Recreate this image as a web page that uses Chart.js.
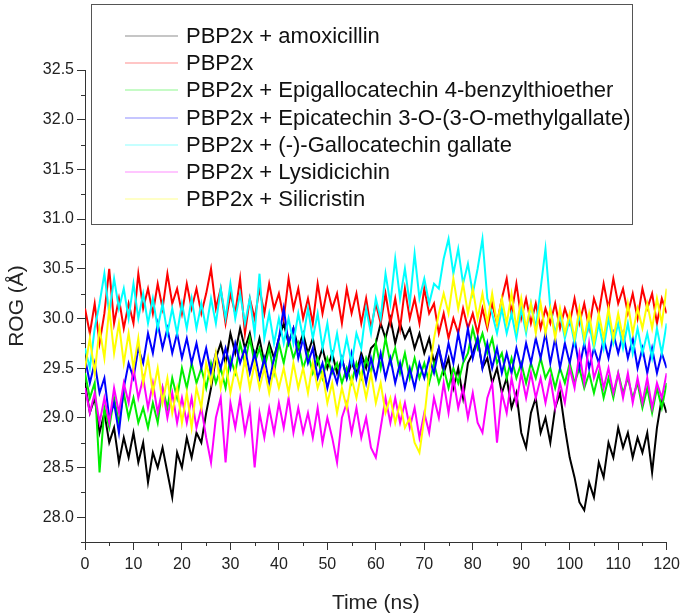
<!DOCTYPE html>
<html>
<head>
<meta charset="utf-8">
<title>ROG</title>
<script src="https://cdn.jsdelivr.net/npm/chart.js"></script>
<style>
  html, body { margin: 0; padding: 0; background: #fff; }
  #wrap { position: relative; width: 685px; height: 616px; }
</style>
</head>
<body>
<div id="wrap"><canvas id="myChart" width="685" height="616"></canvas></div>
<script>
'use strict';
// time in ns
const times = [0,1,2,3,4,5,6,7,8,9,10,11,12,13,14,15,16,17,18,19,20,21,22,23,24,25,26,27,28,29,30,
  31,32,33,34,35,36,37,38,39,40,41,42,43,44,45,46,47,48,49,50,51,52,53,54,55,56,57,58,59,60,
  61,62,63,64,65,66,67,68,69,70,71,72,73,74,75,76,77,78,79,80,81,82,83,84,85,86,87,88,89,90,
  91,92,93,94,95,96,97,98,99,100,101,102,103,104,105,106,107,108,109,110,111,112,113,114,115,116,117,118,119,120];

const names = [
  'PBP2x + amoxicillin',
  'PBP2x',
  'PBP2x + Epigallocatechin 4-benzylthioether',
  'PBP2x + Epicatechin 3-O-(3-O-methylgallate)',
  'PBP2x + (-)-Gallocatechin gallate',
  'PBP2x + Lysidicichin',
  'PBP2x + Silicristin',
];
const colors = ['#000000', '#ff0000', '#00ee00', '#0000ff', '#00ffff', '#ff00ff', '#ffff00'];

const amoxicillin = [29.35,29.05,29.2,28.85,29.05,28.75,28.9,28.55,28.8,28.6,28.85,28.55,28.75,28.35,28.65,28.5,28.7,28.45,28.2,28.65,
  28.5,28.8,28.6,28.85,28.75,29.05,29.3,29.6,29.75,29.55,29.85,29.65,29.9,29.7,29.85,29.6,29.8,29.55,29.75,29.6,
  29.8,29.95,29.75,29.9,29.7,29.85,29.65,29.8,29.55,29.7,29.5,29.65,29.45,29.6,29.4,29.55,29.45,29.65,29.5,29.7,
  29.75,29.95,29.8,30.0,29.75,29.95,29.8,29.9,29.7,29.85,29.65,29.8,29.55,29.7,29.45,29.6,29.3,29.5,29.2,29.55,
  29.65,29.8,29.5,29.6,29.35,29.5,29.25,29.4,29.1,29.25,28.85,28.7,29.05,29.2,28.85,29.0,28.75,29.1,29.25,28.9,
  28.6,28.4,28.15,28.07,28.35,28.2,28.55,28.4,28.75,28.6,28.9,28.7,28.85,28.6,28.8,28.65,28.85,28.45,28.9,29.2,29.05];

const apo = [30.1,29.85,30.15,29.75,30.05,30.5,29.95,30.2,29.9,30.15,29.95,30.45,30.1,30.3,30.05,30.35,30.1,30.45,30.15,30.3,
  30.05,30.35,30.1,30.3,30.05,30.25,30.5,30.1,30.3,29.95,30.25,30.05,30.4,29.85,30.2,30.0,30.3,30.05,30.35,30.1,
  30.25,30.0,30.4,30.1,30.3,30.0,30.2,29.95,30.35,30.05,30.3,30.1,30.25,29.95,30.3,30.05,30.25,29.95,30.2,29.9,
  30.15,29.95,30.25,29.95,30.2,29.9,30.3,30.0,30.2,29.95,30.3,30.05,30.15,29.85,30.05,29.8,30.0,29.85,30.1,29.9,
  30.05,29.85,30.1,29.9,30.15,29.95,30.2,30.4,30.05,30.35,30.0,30.2,29.95,30.15,29.9,30.1,29.95,30.15,29.9,30.1,
  29.95,30.2,29.95,30.15,29.9,30.2,30.05,30.35,30.1,30.4,30.15,30.3,30.05,30.25,30.0,30.3,30.1,30.25,29.95,30.2,30.05];

const epigallo = [29.45,29.2,29.35,28.45,29.1,28.9,29.2,28.95,29.25,29.0,29.2,28.95,29.1,28.9,29.15,28.95,29.3,29.1,29.4,29.2,
  29.5,29.3,29.55,29.35,29.5,29.3,29.55,29.35,29.5,29.3,29.6,29.45,29.75,29.55,29.8,29.55,29.7,29.5,29.7,29.45,
  29.75,29.55,29.8,29.6,29.75,29.5,29.65,29.45,29.6,29.4,29.6,29.45,29.55,29.35,29.5,29.35,29.55,29.4,29.6,29.45,
  29.75,29.5,29.8,29.55,29.7,29.45,29.65,29.4,29.6,29.4,29.55,29.35,29.55,29.35,29.5,29.3,29.5,29.35,29.55,29.65,
  29.9,29.7,29.85,29.65,29.8,29.55,29.65,29.4,29.6,29.4,29.55,29.35,29.55,29.4,29.6,29.4,29.5,29.3,29.5,29.35,
  29.55,29.35,29.5,29.3,29.45,29.25,29.45,29.2,29.4,29.2,29.45,29.25,29.4,29.2,29.35,29.1,29.3,29.05,29.3,29.1,29.35];

const epicat = [29.6,29.35,29.55,29.25,29.4,29.0,29.15,28.85,29.3,29.55,29.4,29.7,29.55,29.85,29.65,29.95,29.7,29.9,29.65,29.85,
  29.6,29.8,29.55,29.75,29.5,29.7,29.45,29.65,29.5,29.7,29.5,29.75,29.55,29.7,29.45,29.65,29.4,29.6,29.35,29.6,
  29.8,30.1,29.75,29.9,29.6,29.8,29.55,29.7,29.4,29.55,29.3,29.5,29.35,29.6,29.4,29.65,29.4,29.6,29.35,29.6,
  29.4,29.65,29.4,29.6,29.35,29.55,29.3,29.5,29.3,29.55,29.4,29.6,29.45,29.7,29.5,29.75,29.55,29.85,29.6,29.9,
  29.6,29.8,29.5,29.75,29.5,29.7,29.45,29.65,29.45,29.7,29.5,29.75,29.55,29.8,29.6,29.85,29.55,29.8,29.5,29.75,
  29.55,29.8,29.5,29.75,29.5,29.7,29.55,29.8,29.6,29.85,29.65,29.85,29.6,29.8,29.5,29.7,29.45,29.7,29.45,29.65,29.5];

const gallocat = [29.7,29.5,29.9,30.15,30.45,30.05,30.4,30.1,30.3,30.0,30.35,30.0,30.25,29.95,30.2,29.9,30.15,29.85,30.1,29.85,
  30.15,29.9,30.2,29.9,30.15,29.9,30.2,29.95,30.3,30.0,30.35,30.0,30.25,29.95,30.2,29.85,30.45,29.8,30.05,29.75,
  30.0,29.75,30.0,29.75,30.05,29.8,30.1,29.8,30.05,29.7,29.95,29.6,29.85,29.55,29.8,29.55,29.85,29.7,30.1,29.85,
  30.2,30.0,30.45,30.15,30.6,30.2,30.5,30.15,30.65,30.2,30.4,30.15,30.35,30.3,30.6,30.8,30.45,30.7,30.35,30.55,
  30.25,30.5,30.8,30.2,30.05,29.85,30.1,29.85,30.05,29.8,30.1,29.85,30.15,29.9,30.3,30.7,30.1,29.85,30.05,29.8,
  30.0,29.75,30.05,29.75,29.95,29.7,29.95,29.7,30.0,29.75,29.95,29.7,29.95,29.65,29.9,29.65,29.85,29.6,29.9,29.65,29.95];

const lysid = [29.3,29.05,29.25,28.95,29.2,28.95,29.3,29.05,29.35,29.15,29.5,29.2,29.4,29.1,29.35,29.05,29.3,29.0,29.25,28.95,
  29.2,28.95,29.2,28.9,29.1,28.8,28.55,29.0,29.2,28.55,29.15,28.9,29.2,28.85,29.1,28.5,29.05,28.8,29.1,28.85,
  29.15,28.9,29.2,28.85,29.1,28.85,29.05,28.8,29.1,28.75,29.0,28.8,28.55,29.0,29.15,28.85,29.1,28.8,29.0,28.7,
  28.6,28.9,29.2,28.95,29.2,28.95,29.15,28.9,29.1,28.8,29.05,28.85,29.2,29.0,29.35,29.05,29.4,29.1,29.3,29.0,
  29.25,28.95,28.85,29.2,29.35,28.75,29.25,29.05,29.4,29.15,29.45,29.2,29.45,29.2,29.4,29.15,29.4,29.1,29.35,29.15,
  29.5,29.3,29.65,29.35,29.75,29.4,29.55,29.3,29.5,29.25,29.45,29.2,29.45,29.15,29.4,29.15,29.4,29.1,29.35,29.2,29.45];

const silic = [29.5,29.8,29.45,29.9,29.6,30.1,29.65,29.95,29.55,29.85,29.5,29.8,29.35,29.6,29.25,29.5,29.15,29.4,29.05,29.3,
  28.95,29.25,28.9,29.3,29.1,29.55,29.35,29.65,29.3,29.55,29.25,29.5,29.3,29.6,29.3,29.55,29.3,29.5,29.25,29.5,
  29.3,29.5,29.25,29.55,29.3,29.5,29.25,29.55,29.3,29.45,29.15,29.35,29.05,29.3,29.1,29.4,29.2,29.45,29.2,29.45,
  29.15,29.35,29.05,29.2,28.95,29.15,28.9,29.0,28.75,28.65,29.0,29.45,29.8,30.05,30.25,30.05,30.4,30.1,30.35,30.05,
  30.3,30.0,30.25,29.95,30.25,29.95,30.2,29.95,30.25,29.9,30.2,29.9,30.15,29.85,30.15,29.85,30.1,29.8,30.1,29.85,
  30.05,29.8,30.1,29.8,30.05,29.75,30.05,29.8,30.1,29.8,30.05,29.8,30.15,29.85,30.1,29.9,30.15,29.9,30.2,29.95,30.3];

const series = [amoxicillin, apo, epigallo, epicat, gallocat, lysid, silic];

const FONT = 'Arial, "Liberation Sans", sans-serif';

// minor ticks half way between the major ones
const minorTicks = {
  id: 'minorTicks',
  afterDraw(chart) {
    const ctx = chart.ctx;
    const x = chart.scales.x;
    const y = chart.scales.y;
    ctx.save();
    ctx.strokeStyle = '#333';
    ctx.lineWidth = 1;
    ctx.beginPath();
    for (let i = 0; i < x.ticks.length; i++) {
      const v = x.ticks[i].value + 5;
      if (v > x.max) continue;
      const px = Math.round(x.getPixelForValue(v)) + 0.5;
      ctx.moveTo(px, x.top);
      ctx.lineTo(px, x.top + 4);
    }
    for (let i = 0; i < y.ticks.length; i++) {
      const v = y.ticks[i].value - 0.25;
      if (v < y.min) continue;
      const py = Math.round(y.getPixelForValue(v)) + 0.5;
      ctx.moveTo(y.right, py);
      ctx.lineTo(y.right - 4, py);
    }
    ctx.stroke();
    ctx.restore();
  }
};

// boxed legend laid over the top of the plot
const boxLegend = {
  id: 'boxLegend',
  afterDraw(chart) {
    const ctx = chart.ctx;
    ctx.save();
    ctx.fillStyle = '#fff';
    ctx.fillRect(91, 4, 541, 220);
    ctx.strokeStyle = '#555';
    ctx.lineWidth = 1;
    ctx.strokeRect(91.5, 4.5, 541, 220);
    ctx.font = '22px ' + FONT;
    ctx.textBaseline = 'middle';
    const sets = chart.data.datasets;
    for (let i = 0; i < sets.length; i++) {
      const yy = 36 + i * 27.2;
      // the sample lines look faint in the original
      ctx.globalAlpha = 0.45;
      ctx.strokeStyle = sets[i].borderColor;
      ctx.beginPath();
      ctx.moveTo(125, Math.round(yy));
      ctx.lineTo(178, Math.round(yy));
      ctx.stroke();
      ctx.globalAlpha = 1;
      ctx.fillStyle = '#111';
      ctx.fillText(sets[i].label, 186, yy + 1);
    }
    ctx.restore();
  }
};

const datasets = [];
for (let i = 0; i < names.length; i++) {
  datasets.push({
    label: names[i],
    data: series[i],
    borderColor: colors[i],
    backgroundColor: colors[i],
    borderWidth: 2,
    pointRadius: 0,
    tension: 0,
    // later series on top, like the original plot
    order: names.length - i,
  });
}

const ctx = document.getElementById('myChart').getContext('2d');
new Chart(ctx, {
  type: 'line',
  data: { labels: times, datasets: datasets },
  options: {
    responsive: false,
    animation: false,
    events: [],
    layout: { padding: { top: 70, right: 16, left: 0, bottom: 0 } },
    plugins: { legend: { display: false }, tooltip: { enabled: false } },
    scales: {
      x: {
        type: 'linear',
        min: 0,
        max: 120,
        afterFit(scale) { scale.height = 74; },
        border: { color: '#333', width: 1 },
        grid: { drawOnChartArea: false, tickLength: 8, tickColor: '#333' },
        ticks: { stepSize: 10, color: '#222', padding: 5, maxRotation: 0, font: { family: FONT, size: 16 } },
        title: { display: true, text: 'Time (ns)', color: '#222', padding: { top: 3, bottom: 0 }, font: { family: FONT, size: 21 } },
      },
      y: {
        min: 27.75,
        max: 32.5,
        afterFit(scale) { scale.width = 85; },
        border: { color: '#333', width: 1 },
        grid: { drawOnChartArea: false, tickLength: 8, tickColor: '#333' },
        ticks: {
          stepSize: 0.5,
          includeBounds: false,
          color: '#222',
          padding: 3,
          font: { family: FONT, size: 16 },
          callback: (v) => v.toFixed(1),
        },
        title: { display: true, text: 'ROG (Å)', color: '#222', padding: { top: 5, bottom: 0 }, font: { family: FONT, size: 21 } },
      },
    },
  },
  plugins: [minorTicks, boxLegend],
});
</script>
</body>
</html>
